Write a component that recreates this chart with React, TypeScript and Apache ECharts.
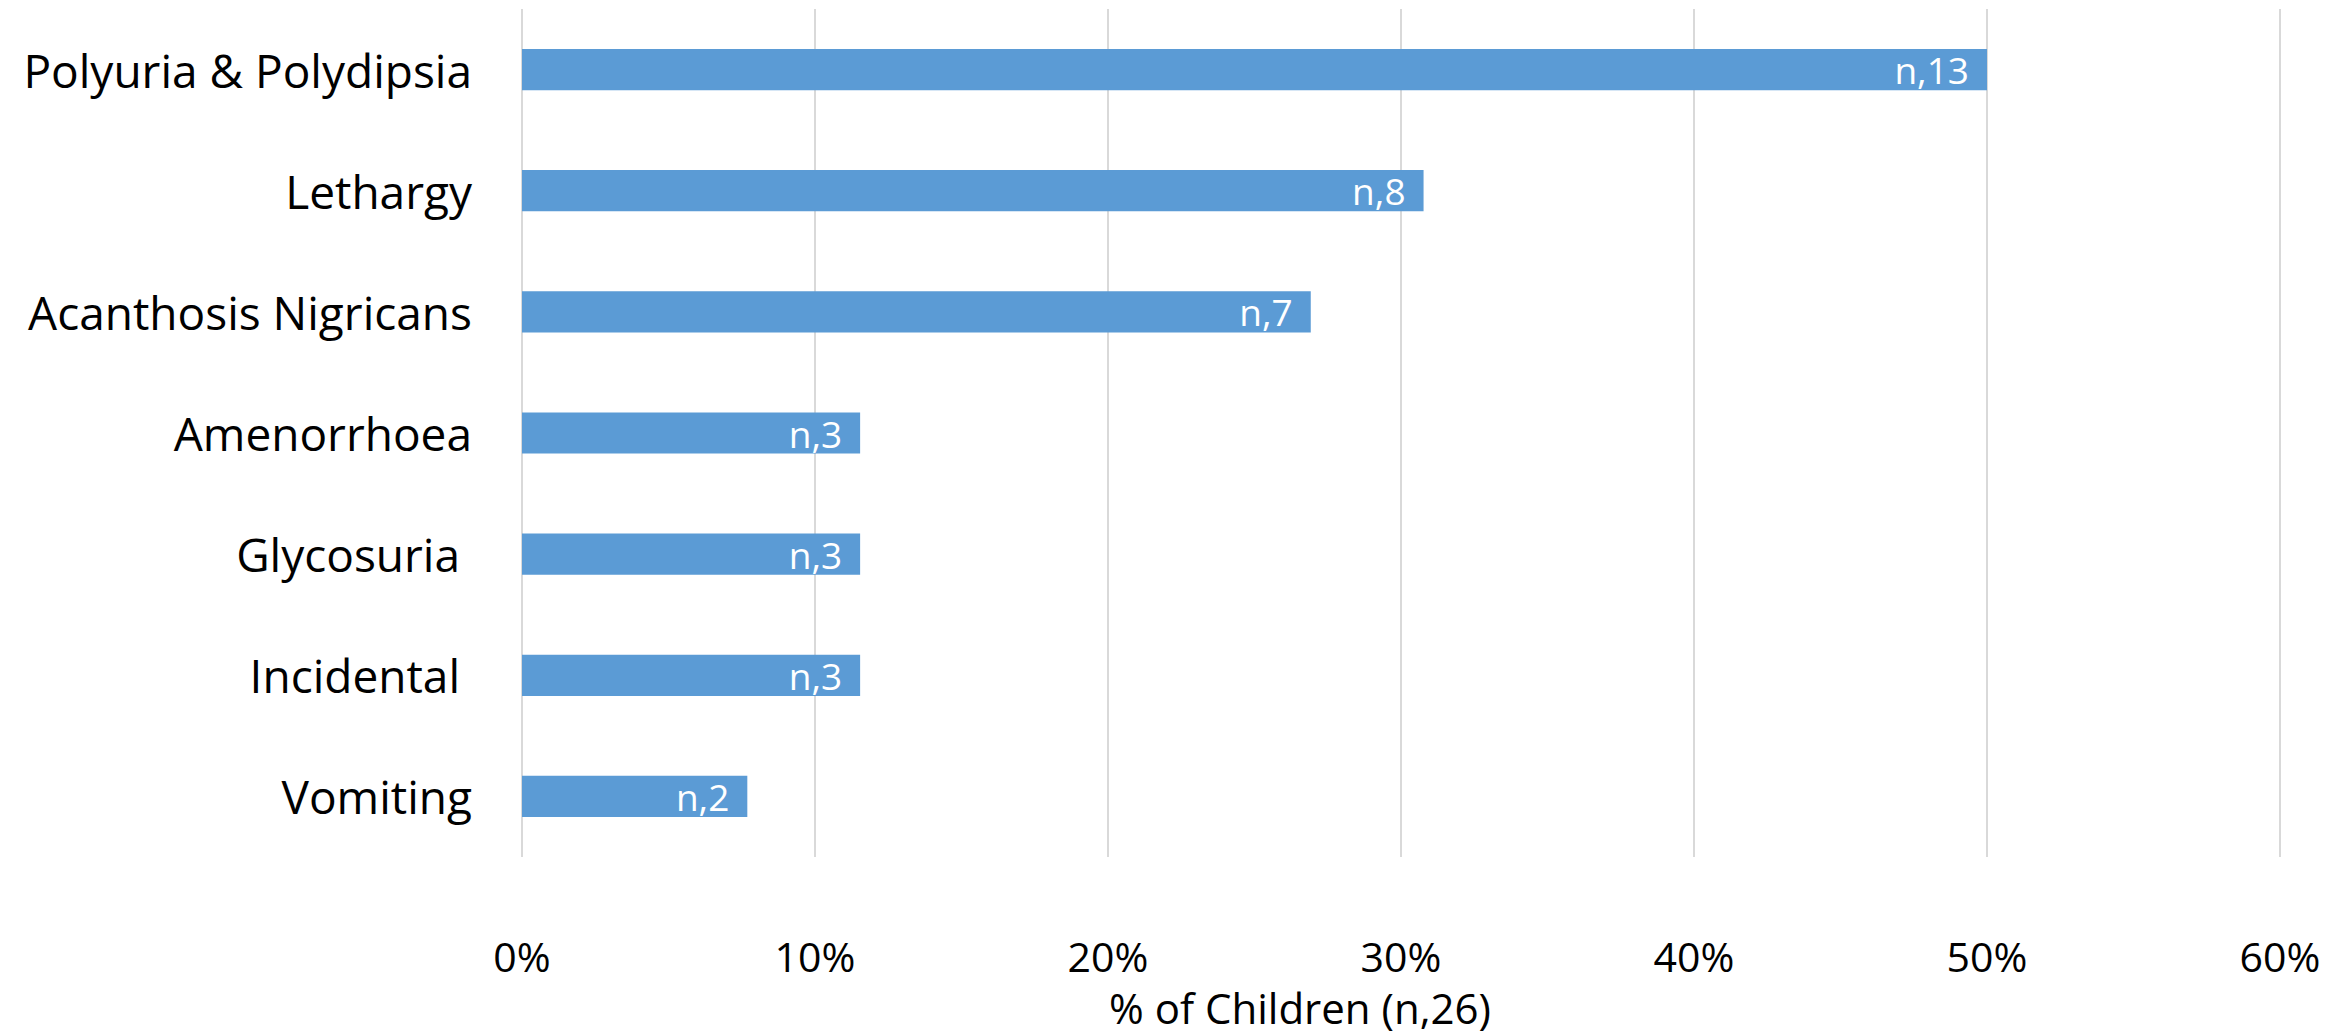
import React, { useEffect, useRef } from "react";
import * as echarts from "echarts";

const categories = [
  "Polyuria & Polydipsia",
  "Lethargy",
  "Acanthosis Nigricans",
  "Amenorrhoea",
  "Glycosuria ",
  "Incidental ",
  "Vomiting",
];
const percentValues = [50, 30.77, 26.92, 11.54, 11.54, 11.54, 7.69];
const countLabels = ["n,13", "n,8", "n,7", "n,3", "n,3", "n,3", "n,2"];
const axisTitle = "% of Children (n,26)";
const FONT = "'Open Sans', 'Noto Sans', sans-serif";

export default function App() {
  const ref = useRef<HTMLDivElement>(null);
  useEffect(() => {
    if (!ref.current) return;
    const chart = echarts.init(ref.current, null, { renderer: "svg" });
    chart.setOption({
      animation: false,
      backgroundColor: "#ffffff",
      grid: { left: 522, right: 72, top: 9, bottom: 178, containLabel: false },
      xAxis: {
        type: "value",
        min: 0,
        max: 60,
        interval: 10,
        axisLine: { show: false },
        axisTick: { show: false },
        splitLine: { show: true, lineStyle: { color: "#d9d9d9", width: 2 } },
        axisLabel: {
          formatter: "{value}%",
          fontFamily: FONT,
          fontSize: 41,
          lineHeight: 41,
          color: "#000000",
          margin: 99,
          verticalAlign: "middle",
        },
        name: axisTitle,
        nameLocation: "middle",
        nameGap: 150,
        nameTextStyle: {
          fontFamily: FONT,
          fontSize: 42,
          lineHeight: 42,
          color: "#000000",
          verticalAlign: "middle",
          padding: [0, 202, 0, 0],
        },
      },
      yAxis: {
        type: "category",
        inverse: true,
        data: categories,
        axisLine: { show: false },
        axisTick: { show: false },
        splitLine: { show: false },
        axisLabel: {
          fontFamily: FONT,
          fontSize: 46,
          color: "#000000",
          margin: 50,
        },
      },
      series: [
        {
          type: "bar",
          data: percentValues,
          barWidth: "34%",
          itemStyle: { color: "#5b9bd5" },
          label: {
            show: true,
            position: "insideRight",
            distance: 18,
            color: "#ffffff",
            fontFamily: FONT,
            fontSize: 37,
            formatter: (p: any) => countLabels[p.dataIndex],
          },
        },
      ],
    });
    return () => chart.dispose();
  }, []);
  return (
    <div
      ref={ref}
      style={{ position: "absolute", left: 0, top: 0, width: 2352, height: 1035 }}
    />
  );
}
